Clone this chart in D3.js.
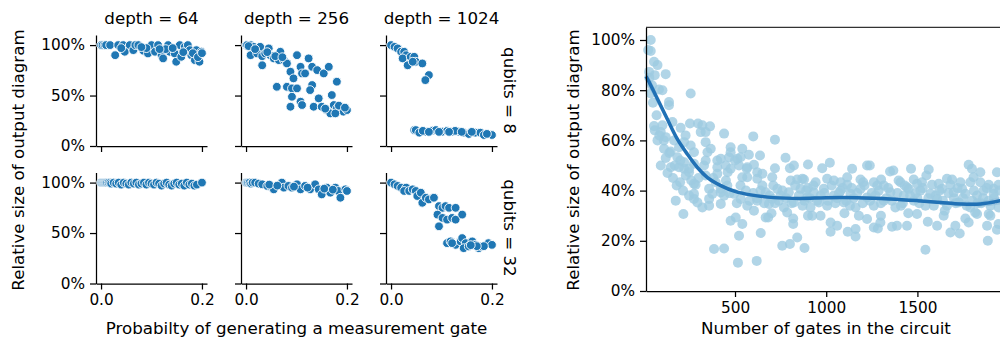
<!DOCTYPE html>
<html>
<head>
<meta charset="utf-8">
<script src="https://cdn.jsdelivr.net/npm/d3@7"></script>
<style>
  body { margin: 0; background: #fff; }
  svg { display: block; font-family: "DejaVu Sans", sans-serif; }
</style>
</head>
<body>
<svg width="1000" height="345"></svg>
<script>
// Facet labels
const depths = [64, 256, 1024];
const qubits = [8, 32];
const probTicks = [0, 0.2];
const sizeTicks = [0, 0.5, 1];

// [probability, relative size] per facet
const q8d64 = [[0,1],[0.003,1],[0.007,1],[0.01,1],[0.018,1],[0.028,0.9],[0.034,1],[0.044,1],
  [0.047,0.934],[0.057,1],[0.064,0.95],[0.068,1],[0.074,1],[0.084,0.944],[0.093,0.917],[0.1,1],
  [0.107,0.934],[0.113,1],[0.12,0.9],[0.123,0.868],[0.133,1],[0.136,0.934],[0.146,0.917],
  [0.149,0.835],[0.156,1],[0.159,0.884],[0.166,0.983],[0.172,1],[0.176,0.95],[0.179,0.9],
  [0.186,0.851],[0.189,0.95],[0.195,0.835],[0.199,0.934],[0.09,0.97],[0.128,0.96],[0.163,0.93],
  [0.04,0.97],[0.08,0.98],[0.142,0.97],[0.182,0.92],[0.192,0.88],[0.2,0.92],[0.116,0.96]];
const q8d256 = [[0,1],[0.002,1],[0.009,1],[0.015,0.983],[0.028,0.983],[0.045,0.967],[0.009,0.9],
  [0.022,0.917],[0.032,0.89],[0.032,0.8],[0.038,0.917],[0.048,0.9],[0.055,0.868],[0.068,0.934],
  [0.065,0.851],[0.075,0.851],[0.081,0.818],[0.088,0.736],[0.094,0.67],[0.101,0.9],[0.108,0.785],
  [0.111,0.719],[0.117,0.719],[0.124,0.868],[0.131,0.785],[0.141,0.752],[0.154,0.719],
  [0.164,0.785],[0.18,0.637],[0.061,0.587],[0.081,0.587],[0.091,0.571],[0.101,0.571],
  [0.091,0.488],[0.108,0.439],[0.088,0.389],[0.111,0.406],[0.131,0.604],[0.127,0.554],
  [0.144,0.472],[0.134,0.389],[0.15,0.389],[0.16,0.356],[0.17,0.505],[0.174,0.406],
  [0.167,0.323],[0.18,0.373],[0.187,0.356],[0.193,0.34],[0.2,0.356],[0.177,0.323],
  [0.005,0.99],[0.018,0.96],[0.042,0.93],[0.058,0.89],[0.072,0.88],[0.157,0.37],[0.184,0.4],[0.196,0.38]];
const q8d1024 = [[0,1],[0.007,0.983],[0.013,0.967],[0.02,0.934],[0.026,0.934],[0.03,0.9],
  [0.023,0.868],[0.033,0.8],[0.039,0.884],[0.046,0.884],[0.049,0.835],[0.062,0.818],[0.043,0.835],
  [0.075,0.703],[0.068,0.653],[0.046,0.158],[0.049,0.158],[0.056,0.132],[0.069,0.142],
  [0.082,0.152],[0.089,0.158],[0.102,0.142],[0.111,0.149],[0.121,0.142],[0.134,0.142],
  [0.144,0.132],[0.154,0.119],[0.167,0.132],[0.177,0.132],[0.184,0.109],[0.2,0.109],
  [0.063,0.15],[0.095,0.14],[0.127,0.15],[0.16,0.14],[0.19,0.12],[0.075,0.14],[0.115,0.14],[0.14,0.14]];
const q32d64 = [[0,1],[0.002,1],[0.004,1],[0.006,1],[0.008,1],[0.01,1],[0.012,1],[0.015,1],
  [0.018,1],[0.02,0.99],[0.025,1],[0.03,0.99],[0.035,1],[0.04,0.98],[0.045,1],[0.05,0.99],
  [0.055,0.98],[0.06,1],[0.065,0.99],[0.07,1],[0.075,0.98],[0.08,0.99],[0.085,1],[0.09,0.98],
  [0.095,1],[0.1,0.99],[0.105,0.98],[0.11,1],[0.115,0.99],[0.12,0.97],[0.125,0.99],[0.13,1],
  [0.135,0.98],[0.14,0.97],[0.145,0.99],[0.15,1],[0.155,0.98],[0.16,0.99],[0.165,0.97],
  [0.17,1],[0.175,0.98],[0.18,0.99],[0.185,0.97],[0.19,0.98],[0.2,1]];
const q32d256 = [[0,1],[0.002,1],[0.004,1],[0.007,1],[0.01,0.99],[0.013,1],[0.018,1],[0.025,0.99],
  [0.032,0.983],[0.042,0.967],[0.051,0.95],[0.055,0.933],[0.071,1],[0.075,0.95],[0.084,0.967],
  [0.091,0.95],[0.101,0.983],[0.108,0.933],[0.117,0.967],[0.127,0.933],[0.137,0.983],
  [0.144,0.933],[0.15,0.883],[0.16,0.95],[0.167,0.9],[0.177,0.95],[0.183,0.917],[0.187,0.85],
  [0.197,0.933],[0.2,0.917],[0.046,0.98],[0.062,0.97],[0.095,0.96],[0.122,0.95],[0.155,0.94],[0.172,0.93]];
const q32d1024 = [[0,1],[0.007,0.983],[0.013,0.967],[0.02,0.95],[0.03,0.95],[0.026,0.917],
  [0.036,0.917],[0.043,0.933],[0.049,0.917],[0.052,0.867],[0.059,0.9],[0.062,0.8],[0.069,0.85],
  [0.075,0.833],[0.085,0.85],[0.095,0.767],[0.102,0.75],[0.108,0.767],[0.115,0.75],[0.128,0.75],
  [0.092,0.683],[0.102,0.65],[0.111,0.633],[0.121,0.65],[0.095,0.567],[0.128,0.633],[0.141,0.683],
  [0.111,0.4],[0.118,0.417],[0.128,0.383],[0.138,0.417],[0.141,0.45],[0.148,0.4],[0.161,0.417],
  [0.144,0.35],[0.154,0.367],[0.167,0.383],[0.174,0.35],[0.18,0.367],[0.193,0.4],[0.2,0.383],
  [0.121,0.4],[0.184,0.37],[0.17,0.37],[0.158,0.38]];
const facetData = [[q8d64, q8d256, q8d1024], [q32d64, q32d256, q32d1024]];

// Right panel: [number of gates, relative size]
const gateTicks = [500, 1000, 1500];
const pctTicks = [0, 0.2, 0.4, 0.6, 0.8, 1];
const gateSizes = [[38,1.0],[38,0.956],[24,0.96],[56,0.913],[75,0.9],[60,0.86],[29,0.873],
  [120,0.864],[83,0.803],[102,0.8],[38,0.787],[257,0.787],[138,0.753],[138,0.74],[56,0.657],
  [102,0.66],[157,0.673],[93,0.633],[202,0.65],[253,0.667],[297,0.667],[321,0.66],[363,0.656],
  [312,0.633],[440,0.627],[600,0.616],[719,0.603],[75,0.6],[120,0.613],[229,0.62],[339,0.633],
  [166,0.6],[221,0.593],[257,0.58],[339,0.593],[111,0.567],[147,0.556],[193,0.573],[275,0.553],
  [367,0.567],[476,0.573],[540,0.567],[120,0.53],[184,0.533],[221,0.513],[339,0.52],[403,0.52],
  [467,0.533],[513,0.527],[576,0.543],[637,0.54],[777,0.531],[93,0.5],[148,0.493],[193,0.493],
  [248,0.487],[403,0.493],[449,0.5],[522,0.5],[564,0.487],[604,0.503],[719,0.489],[801,0.489],
  [900,0.504],[978,0.489],[1020,0.511],[1142,0.487],[1224,0.5],[1239,0.5],[1350,0.476],
  [1368,0.48],[1465,0.487],[1562,0.484],[1549,0.46],[1781,0.503],[1799,0.487],[1845,0.473],
  [1808,0.453],[1936,0.473],[199,0.433],[275,0.427],[284,0.423],[339,0.46],[358,0.407],
  [422,0.407],[458,0.42],[540,0.453],[567,0.453],[622,0.447],[704,0.453],[805,0.44],[841,0.444],
  [878,0.444],[942,0.433],[1042,0.44],[1115,0.423],[1188,0.444],[1203,0.433],[1301,0.444],
  [1407,0.433],[1480,0.444],[1498,0.427],[1580,0.423],[1662,0.447],[1690,0.444],[1736,0.433],
  [1891,0.423],[1918,0.407],[1945,0.423],[175,0.36],[275,0.387],[275,0.367],[321,0.333],
  [358,0.34],[422,0.347],[440,0.38],[495,0.387],[531,0.367],[567,0.34],[604,0.32],[622,0.36],
  [668,0.393],[686,0.347],[704,0.367],[732,0.407],[750,0.38],[768,0.333],[795,0.393],[823,0.353],
  [859,0.407],[896,0.373],[914,0.333],[932,0.393],[960,0.353],[987,0.407],[1005,0.34],[1042,0.38],
  [1079,0.4],[1097,0.353],[1133,0.387],[1161,0.333],[1188,0.407],[1224,0.373],[1261,0.34],
  [1288,0.4],[1316,0.36],[1352,0.393],[1379,0.333],[1425,0.38],[1452,0.407],[1480,0.36],
  [1516,0.4],[1544,0.34],[1571,0.387],[1608,0.367],[1635,0.407],[1662,0.34],[1699,0.393],
  [1727,0.353],[1763,0.387],[1790,0.333],[1827,0.38],[1863,0.4],[1891,0.36],[1918,0.387],
  [1945,0.333],[217,0.307],[476,0.28],[504,0.293],[540,0.267],[522,0.22],[641,0.231],[385,0.167],
  [440,0.169],[516,0.113],[619,0.12],[668,0.293],[682,0.293],[786,0.313],[819,0.289],[819,0.267],
  [759,0.18],[801,0.187],[841,0.213],[881,0.171],[923,0.3],[969,0.3],[1024,0.273],[1024,0.236],
  [1060,0.26],[1118,0.236],[1161,0.247],[1161,0.217],[1179,0.3],[1224,0.287],[1261,0.253],
  [1283,0.249],[1297,0.273],[1361,0.256],[1388,0.26],[1443,0.26],[1498,0.307],[1544,0.164],
  [1557,0.276],[1608,0.26],[1644,0.3],[1681,0.233],[1708,0.26],[1732,0.229],[1763,0.289],
  [1781,0.273],[1827,0.307],[1882,0.26],[1886,0.2],[1936,0.244],[1945,0.267],[1891,0.307],
  [1817,0.313],[358,0.367],[376,0.387],[422,0.393],[394,0.433],[403,0.467],[460,0.473],
  [476,0.487],[500,0.52],[531,0.533],[567,0.493],[622,0.473],[650,0.467],[823,0.5],[869,0.447],
  [1005,0.447],[1079,0.433],[1115,0.453],[1261,0.433],[1316,0.42],[1397,0.44],[1443,0.413],
  [1525,0.433],[1617,0.427],[1681,0.423],[1745,0.407],[1790,0.433],[1845,0.433],[248,0.38],
  [294,0.353],[221,0.487],[248,0.473],[275,0.507],[349,0.553],[422,0.527],[476,0.553],
  [600,0.39],[720,0.35],[880,0.36],[1060,0.37],[1250,0.39],[1420,0.35],[1600,0.38],[1800,0.36],
  [650,0.42],[900,0.41],[1150,0.37],[1330,0.37],[1500,0.37],[1700,0.37],[1850,0.35],[970,0.38],
  [620,0.37],[640,0.4],[660,0.35],[690,0.38],[710,0.42],[740,0.36],[760,0.4],[780,0.37],
  [810,0.35],[830,0.42],[850,0.38],[870,0.34],[890,0.4],[910,0.37],[930,0.42],[950,0.36],
  [990,0.39],[1010,0.36],[1030,0.42],[1050,0.35],[1070,0.39],[1090,0.41],[1110,0.36],[1130,0.34],
  [1140,0.41],[1170,0.39],[1200,0.35],[1210,0.42],[1240,0.36],[1270,0.38],[1280,0.42],[1300,0.35],
  [1340,0.41],[1360,0.36],[1390,0.39],[1410,0.34],[1430,0.42],[1460,0.38],[1490,0.39],[1510,0.35],
  [1530,0.41],[1560,0.37],[1590,0.34],[1620,0.4],[1640,0.36],[1670,0.39],[1710,0.35],[1720,0.41],
  [1750,0.37],[1770,0.34],[1810,0.4],[1830,0.35],[1860,0.37],[1880,0.41],[1900,0.34],[1920,0.37],
  [1950,0.4],[560,0.4],[580,0.36],[530,0.42],[510,0.35],[470,0.39],[450,0.44],[380,0.45],
  [330,0.5],[300,0.45],[260,0.44],[230,0.46],[200,0.52],[170,0.5],[140,0.55],[110,0.6],[85,0.62],
  [70,0.7],[50,0.75],[45,0.82],[30,0.85],[60,0.64],[130,0.47],[160,0.45],[180,0.42],[215,0.4],
  [700,0.31],[900,0.3],[1100,0.31],[1300,0.3],[1450,0.31],[1650,0.32],[1900,0.3]];

// Fitted curve and its confidence band
const fitGates = [12, 20, 75, 130, 184, 239, 294, 349, 422, 500, 586, 714, 860, 1000, 1170, 1352, 1502, 1626, 1736, 1845, 1955, 2000];
const fitSize  = [0.855, 0.845, 0.765, 0.683, 0.605, 0.545, 0.492, 0.452, 0.42, 0.397, 0.383, 0.372, 0.369, 0.372, 0.372, 0.367, 0.36, 0.353, 0.347, 0.347, 0.36, 0.368];
const fitLow   = [0.825, 0.82, 0.747, 0.671, 0.595, 0.536, 0.484, 0.445, 0.413, 0.39, 0.377, 0.366, 0.363, 0.366, 0.366, 0.361, 0.354, 0.346, 0.339, 0.337, 0.345, 0.35];
const fitHigh  = [0.885, 0.87, 0.783, 0.695, 0.615, 0.554, 0.5, 0.459, 0.427, 0.404, 0.389, 0.378, 0.375, 0.378, 0.378, 0.373, 0.366, 0.36, 0.355, 0.357, 0.375, 0.386];

const svg = d3.select("svg");
const tickFont = "15.3px";
const labelFont = "16.7px";

// ---- Left facet grid ----
const colX = [96, 241, 386];
const rowY = [35, 172.5];
const panel = 111;

facetData.forEach((row, r) => {
  row.forEach((data, c) => {
    const x = d3.scaleLinear().domain([-0.01, 0.21]).range([colX[c], colX[c] + panel]);
    const y = d3.scaleLinear().domain([0, 1.1]).range([rowY[r] + panel, rowY[r]]);

    const yAxis = d3.axisLeft(y).tickValues(sizeTicks).tickSize(6).tickSizeOuter(0).tickPadding(5)
      .tickFormat(c === 0 ? d3.format(".0%") : "");
    const xAxis = d3.axisBottom(x).tickValues(probTicks).tickSize(6).tickSizeOuter(0).tickPadding(5)
      .tickFormat(r === 1 ? d3.format(".1f") : "");

    const gy = svg.append("g").attr("transform", "translate(" + colX[c] + ",0)").call(yAxis);
    const gx = svg.append("g").attr("transform", "translate(0," + (rowY[r] + panel) + ")").call(xAxis);
    [gx, gy].forEach(g => {
      g.selectAll("path, line").attr("stroke", "#000").attr("stroke-width", 1.25);
      g.selectAll("text").attr("fill", "#000").style("font-size", tickFont).style("font-family", "DejaVu Sans");
    });

    svg.append("g").selectAll("circle")
      .data(data)
      .enter()
      .append("circle")
      .attr("cx", d => x(d[0]))
      .attr("cy", d => y(d[1]))
      .attr("r", 4.4)
      .attr("fill", "#1f77b4")
      .attr("stroke", "#fff")
      .attr("stroke-width", 0.9);

    if (r === 0) {
      svg.append("text")
        .attr("x", colX[c] + panel / 2)
        .attr("y", 24)
        .attr("text-anchor", "middle")
        .style("font-size", labelFont)
        .text("depth = " + depths[c]);
    }
    if (c === 2) {
      svg.append("text")
        .attr("transform", "translate(" + 504 + "," + (rowY[r] + panel / 2) + ") rotate(90)")
        .attr("text-anchor", "middle")
        .style("font-size", labelFont)
        .text("qubits = " + qubits[r]);
    }
  });
});

svg.append("text")
  .attr("transform", "translate(24,160) rotate(-90)")
  .attr("text-anchor", "middle")
  .style("font-size", labelFont)
  .text("Relative size of output diagram");

svg.append("text")
  .attr("x", (colX[0] + colX[2] + panel) / 2)
  .attr("y", 334)
  .attr("text-anchor", "middle")
  .style("font-size", labelFont)
  .text("Probabilty of generating a measurement gate");

// ---- Right regression panel ----
const rLeft = 646, rBottom = 291;
const xR = d3.scaleLinear().domain([12, 2000]).range([rLeft, rLeft + 1988 * 0.1824]);
const yR = d3.scaleLinear().domain([0, 1.05]).range([rBottom, rBottom - 1.05 * 251]);

const right = svg.append("g");

right.append("g").selectAll("circle")
  .data(gateSizes)
  .enter()
  .append("circle")
  .attr("cx", d => xR(d[0]))
  .attr("cy", d => yR(d[1]))
  .attr("r", 5)
  .attr("fill", "#9ecae1")
  .attr("fill-opacity", 0.8);

const band = d3.area()
  .x((d, i) => xR(fitGates[i]))
  .y0((d, i) => yR(fitLow[i]))
  .y1((d, i) => yR(fitHigh[i]))
  .curve(d3.curveCatmullRom);
right.append("path")
  .attr("d", band(fitGates))
  .attr("fill", "#2171b5")
  .attr("fill-opacity", 0.15);

const fit = d3.line()
  .x((d, i) => xR(fitGates[i]))
  .y((d, i) => yR(fitSize[i]))
  .curve(d3.curveCatmullRom);
right.append("path")
  .attr("d", fit(fitGates))
  .attr("fill", "none")
  .attr("stroke", "#2171b5")
  .attr("stroke-width", 3.5);

const gxR = right.append("g").attr("transform", "translate(0," + rBottom + ")")
  .call(d3.axisBottom(xR).tickValues(gateTicks).tickSize(6).tickSizeOuter(0).tickPadding(5)
    .tickFormat(d3.format("d")));
const gyR = right.append("g").attr("transform", "translate(" + rLeft + ",0)")
  .call(d3.axisLeft(yR).tickValues(pctTicks).tickSize(6).tickSizeOuter(0).tickPadding(5)
    .tickFormat(d3.format(".0%")));
[gxR, gyR].forEach(g => {
  g.selectAll("path, line").attr("stroke", "#000").attr("stroke-width", 1.25);
  g.selectAll("text").attr("fill", "#000").style("font-size", tickFont).style("font-family", "DejaVu Sans");
});

// top spine
right.append("line")
  .attr("x1", rLeft).attr("x2", 1010)
  .attr("y1", yR(1.05)).attr("y2", yR(1.05))
  .attr("stroke", "#333")
  .attr("stroke-width", 1.25);

svg.append("text")
  .attr("transform", "translate(579,160) rotate(-90)")
  .attr("text-anchor", "middle")
  .style("font-size", labelFont)
  .text("Relative size of output diagram");

svg.append("text")
  .attr("x", 826)
  .attr("y", 334)
  .attr("text-anchor", "middle")
  .style("font-size", labelFont)
  .text("Number of gates in the circuit");
</script>
</body>
</html>
